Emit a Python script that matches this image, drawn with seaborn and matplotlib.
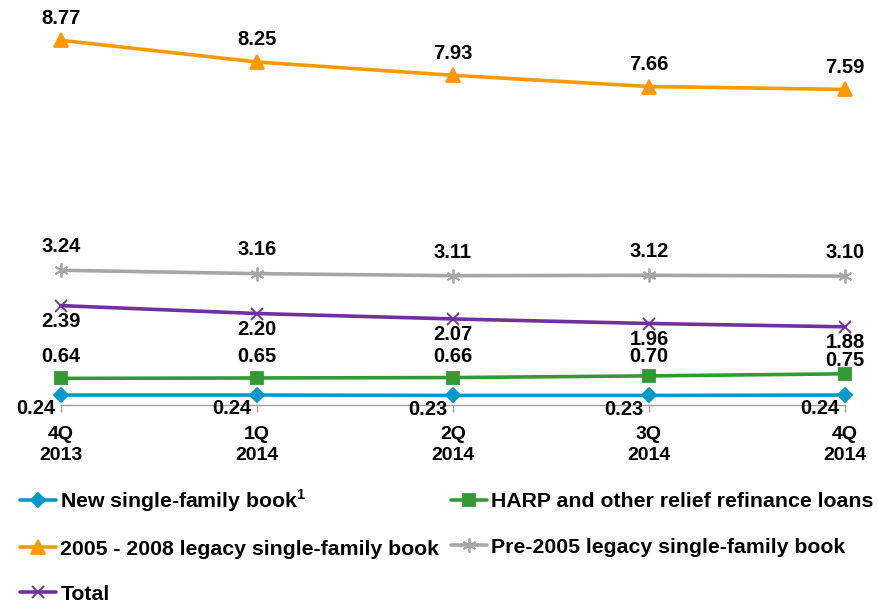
import seaborn as sns
import matplotlib.pyplot as plt
import pandas as pd

# Data
quarters = ['4Q\n2013', '1Q\n2014', '2Q\n2014', '3Q\n2014', '4Q\n2014']
new_book = [0.24, 0.24, 0.23, 0.23, 0.24]
harp = [0.64, 0.65, 0.66, 0.70, 0.75]
legacy_0508 = [8.77, 8.25, 7.93, 7.66, 7.59]
pre_2005 = [3.24, 3.16, 3.11, 3.12, 3.10]
total = [2.39, 2.20, 2.07, 1.96, 1.88]

sns.set_style('white')
plt.rcParams['font.family'] = ['Liberation Sans', 'DejaVu Sans']
plt.rcParams['font.weight'] = 'bold'
plt.rcParams['text.color'] = 'black'
plt.rcParams['xtick.labelcolor'] = 'black'
plt.rcParams['mathtext.fontset'] = 'custom'
plt.rcParams['mathtext.rm'] = 'Liberation Sans'

df = pd.DataFrame({'pos': range(len(quarters))})

fig = plt.figure(figsize=(8.79, 6.05), dpi=100)
ax = fig.add_axes([61 / 879, 200 / 605, (845 - 61) / 879, 395 / 605])
ax.set_xlim(0, 4)
ax.set_ylim(0, 9.5)

# (label, values, colour, marker, marker size, label offset in points)
series = [
    ('New single-family book$^{\\mathregular{1}}$', new_book, '#0099CC', 'D', 7, None),
    ('HARP and other relief refinance loans', harp, '#339933', 's', 9, 15.5),
    ('2005 - 2008 legacy single-family book', legacy_0508, '#FF9900', '^', 10, 16),
    ('Pre-2005 legacy single-family book', pre_2005, '#A6A6A6', (6, 2, 0), 10, 17),
    ('Total', total, '#7030A0', 'x', 9, -11.5),
]


def to_pt(i, v):
    return ax.transData.transform((i, v))[1] * 72 / fig.dpi


for name, vals, col, mk, ms, dy in series:
    df['val'] = vals
    sns.lineplot(data=df, x='pos', y='val', ax=ax, color=col, lw=2.6,
                 marker=mk, markersize=ms, markeredgecolor=col,
                 markeredgewidth=1.3, label=name, clip_on=False)
    for i, v in enumerate(vals):
        if dy is None:
            ax.annotate(f'{v:.2f}', (i, v), xytext=(-4, -10), textcoords='offset points',
                        ha='right', va='center', fontsize=14.5, fontweight='bold')
            continue
        off = dy
        if vals is harp:
            # keep the HARP label clear of the Total label above it
            room = to_pt(i, total[i]) - 11.5 - to_pt(i, v)
            off = min(dy, room - 12.5)
        ax.annotate(f'{v:.2f}', (i, v), xytext=(0, off), textcoords='offset points',
                    ha='center', va='center', fontsize=14.5, fontweight='bold')

ax.set_xticks(range(len(quarters)))
ax.set_xticklabels(quarters, fontsize=14, fontweight='bold', linespacing=1.35)
ax.set_yticks([])
ax.set_xlabel('')
ax.set_ylabel('')
ax.set_xlim(0, 4)
ax.set_ylim(0, 9.5)
ax.tick_params(axis='x', direction='out', length=5, width=1, color='#A0A0A0',
               labelcolor='black', pad=10, bottom=True)
for s in ['top', 'right', 'left']:
    ax.spines[s].set_visible(False)
ax.spines['bottom'].set_color('#A0A0A0')
ax.spines['bottom'].set_linewidth(1)

h, l = ax.get_legend_handles_labels()
ax.get_legend().remove()
order = [0, 2, 4, 1, 3]
fig.legend([h[i] for i in order], [l[i] for i in order], loc='upper left',
           bbox_to_anchor=(20 / 879, 1 - 487 / 605), ncol=2, frameon=False,
           prop={'size': 15.3, 'weight': 'bold'}, handlelength=1.7,
           handletextpad=0.2, columnspacing=0.55, labelspacing=1.23,
           borderaxespad=0, borderpad=0)

fig.savefig('out.png', dpi=100)
